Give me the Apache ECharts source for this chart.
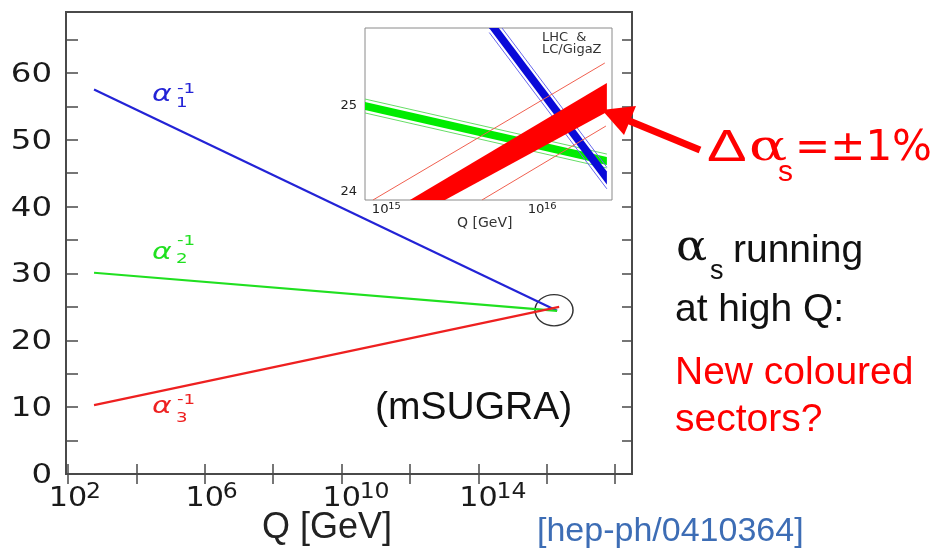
<!DOCTYPE html>
<html><head><meta charset="utf-8">
<script src="https://cdn.jsdelivr.net/npm/echarts@6/dist/echarts.min.js"></script>
<style>html,body{margin:0;padding:0;background:#fff}#c{width:935px;height:555px}</style>
</head><body><div id="c"></div>
<script>
// ---------------- data (x = log10(Q/GeV), y = alpha^-1) ----------------
const mainQ = [2.76, 16.30];
const alpha1Inv = [57.5, 24.4];
const alpha2Inv = [30.1, 24.4];
const mainQ3 = [2.76, 16.36];
const alpha3Inv = [10.3, 25.0];
const convergence = [16.21, 24.5];

const xTickExp = [2, 4, 6, 8, 10, 12, 14, 16, 18];
const xLabelExp = [2, 6, 10, 14];
const yTickVals = [0, 5, 10, 15, 20, 25, 30, 35, 40, 45, 50, 55, 60, 65];
const yLabelVals = [0, 10, 20, 30, 40, 50, 60];

// inset
const insetBlueQ = [15.70, 16.454];
const insetBlueMid = [25.967, 24.15];
const insetBlueCore = 0.075;
const insetBlueEdge = 0.125;
const insetGreenQ = [14.903, 16.454];
const insetGreenMid = [24.988, 24.348];
const insetGreenCore = 0.047;
const insetGreenEdge = 0.081;
const insetRedQ = [15.0, 16.454];
const insetRedUpper = [23.689, 25.255];
const insetRedLower = [23.485, 24.918];
const insetRedHiQ = [14.954, 16.441];
const insetRedHi = [23.895, 25.488];
const insetRedLoQ = [15.653, 16.448];
const insetRedLo = [23.895, 24.755];
const insetXTickMant = [9, 1, 2, 3, 4, 5, 6, 7, 8, 9, 1, 2, 3];
const insetXTickDec  = [14, 15, 15, 15, 15, 15, 15, 15, 15, 15, 16, 16, 16];
const insetXLabelExp = [15, 16];
const insetYTicks = [24, 24.5, 25, 25.5];
const insetYLabels = [24, 25];

// ---------------- chart ----------------
const insetXTicks = insetXTickMant.map((m, i) => Math.log10(m) + insetXTickDec[i]);
const AX = '#4a4a4a';
const F_SANS = '"Liberation Sans", Arial, sans-serif';
const F_PLOT = '"DejaVu Sans", sans-serif';
const F_SERIF = '"DejaVu Serif", serif';

const chart = echarts.init(document.getElementById('c'));

function pairs(xs, ys) { return xs.map((x, i) => [x, ys[i]]); }

function bandRender(qs, mid, core, edge, coreColor, edgeColor) {
  return function (params, api) {
    if (params.dataIndex !== 0) return null;
    const c = (q, v) => api.coord([q, v]);
    const poly = [c(qs[0], mid[0] + core), c(qs[1], mid[1] + core), c(qs[1], mid[1] - core), c(qs[0], mid[0] - core)];
    const children = [{ type: 'polygon', shape: { points: poly }, style: { fill: coreColor } }];
    [edge, -edge].forEach(e => {
      const a = c(qs[0], mid[0] + e), b = c(qs[1], mid[1] + e);
      children.push({ type: 'line', shape: { x1: a[0], y1: a[1], x2: b[0], y2: b[1] }, style: { stroke: edgeColor, lineWidth: 1 } });
    });
    return { type: 'group', children };
  };
}

function redBandRender(params, api) {
  if (params.dataIndex !== 0) return null;
  const c = (q, v) => api.coord([q, v]);
  const poly = [c(insetRedQ[0], insetRedUpper[0]), c(insetRedQ[1], insetRedUpper[1]),
                c(insetRedQ[1], insetRedLower[1]), c(insetRedQ[0], insetRedLower[0])];
  return { type: 'polygon', shape: { points: poly }, style: { fill: '#ff0000' } };
}

function ellipseRender(params, api) {
  const p = api.coord([api.value(0), api.value(1)]);
  return { type: 'circle', x: p[0], y: p[1], scaleY: 0.82, shape: { cx: 0, cy: 0, r: 19 },
           style: { fill: 'none', stroke: '#333', lineWidth: 1.5, strokeNoScale: true } };
}

// power-of-ten tick labels, placed through the axis scale
function powLabelRender(cfg) {
  return function (params, api) {
    const p = api.coord([api.value(0), api.value(1)]);
    const e = String(api.value(0));
    return { type: 'group', children: [
      { type: 'text', x: p[0], y: p[1] + cfg.baseDy, scaleX: cfg.sx,
        style: { text: '10', fontSize: cfg.base, fontFamily: F_PLOT, fill: cfg.color, align: 'center', verticalAlign: 'middle' } },
      { type: 'text', x: p[0] + cfg.supDx, y: p[1] + cfg.supDy, scaleX: cfg.sx,
        style: { text: e, fontSize: cfg.sup, fontFamily: F_PLOT, fill: cfg.color, align: 'left', verticalAlign: 'middle' } }
    ] };
  };
}
function numLabelRender(cfg) {
  return function (params, api) {
    const p = api.coord([api.value(0), api.value(1)]);
    return { type: 'text', x: p[0] + cfg.dx, y: p[1] + cfg.dy, scaleX: cfg.sx,
      style: { text: String(api.value(1)), fontSize: cfg.size, fontFamily: F_PLOT, fill: cfg.color, align: 'right', verticalAlign: 'middle' } };
  };
}

function T(text, x, base, size, family, color, extra) {
  const el = { type: 'text', x: x, y: base - 0.3 * size, z: 100,
    style: Object.assign({ text: text, fontSize: size, fontFamily: family, fill: color, verticalAlign: 'middle', align: 'left' }, (extra && extra.style) || {}) };
  if (extra) { for (const k in extra) if (k !== 'style') el[k] = extra[k]; }
  return el;
}

function alphaLabel(x, base, supBase, subBase, sub, color) {
  return [
    T('α', x, base, 23, F_PLOT, color, { scaleX: 1.3, style: { fontStyle: 'italic' } }),
    T('-1', x + 25, supBase, 14, F_PLOT, color, { scaleX: 1.3 }),
    T(sub, x + 24, subBase, 14, F_PLOT, color, { scaleX: 1.3 })
  ];
}

const graphics = [].concat(
  alphaLabel(152, 102, 94, 108, '1', '#2323d6'),
  alphaLabel(152, 260, 246, 264, '2', '#20e020'),
  alphaLabel(152, 414, 405, 423, '3', '#ee2020'),
  [
    T('(mSUGRA)', 375, 420, 39, F_SANS, '#111'),
    T('Q [GeV]', 262, 539, 36, F_SANS, '#222'),
    T('[hep-ph/0410364]', 537, 542, 34, F_SANS, '#3d6db5'),
    // inset texts
    T('LHC  &', 542, 42, 13, F_PLOT, '#333'),
    T('LC/GigaZ', 542, 54, 13, F_PLOT, '#333'),
    T('Q [GeV]', 457, 228, 14, F_PLOT, '#333'),
    // right side
    T('Δ', 707, 162, 44, F_SANS, '#ff0000', { scaleX: 1.35 }),
    T('α', 749, 162, 42, F_SERIF, '#ff0000', { scaleX: 1.35 }),
    T('s', 778, 182, 30, F_SANS, '#ff0000'),
    T('=±1%', 795, 162, 42, F_PLOT, '#ff0000'),
    T('α', 676, 262, 42, F_SERIF, '#111', { scaleX: 1.1 }),
    T('s', 710, 280, 27, F_SANS, '#111'),
    T('running', 733, 263, 39, F_SANS, '#111'),
    T('at high Q:', 675, 322, 39, F_SANS, '#111'),
    T('New coloured', 675, 385, 39, F_SANS, '#ff0000'),
    T('sectors?', 675, 432, 39, F_SANS, '#ff0000'),
    { type: 'line', z: 100, shape: { x1: 700, y1: 150, x2: 627, y2: 120 }, style: { stroke: '#ff0000', lineWidth: 7 } },
    { type: 'polygon', z: 100, shape: { points: [[602, 110], [636, 106], [624, 135]] }, style: { fill: '#ff0000' } }
  ]
);

const tickStyle = { color: AX, width: 1.5 };
const insetTick = { color: '#666', width: 1 };

const option = {
  animation: false,
  backgroundColor: '#fff',
  grid: [
    { left: 66, top: 12, width: 566, height: 462, show: true, borderColor: AX, borderWidth: 2, backgroundColor: 'transparent' },
    { left: 365, top: 28, width: 247, height: 172, show: true, borderColor: '#8a8a8a', borderWidth: 1, backgroundColor: '#fff', z: 5 }
  ],
  xAxis: [
    { gridIndex: 0, type: 'value', min: 1.94, max: 18.49, position: 'bottom',
      axisLine: { show: false }, splitLine: { show: false }, axisLabel: { show: false },
      axisTick: { inside: true, length: 10, customValues: xTickExp, lineStyle: tickStyle } },
    { gridIndex: 0, type: 'value', min: 1.94, max: 18.49, position: 'top',
      axisLine: { show: false }, splitLine: { show: false }, axisLabel: { show: false },
      axisTick: { inside: true, length: 10, customValues: xTickExp, lineStyle: tickStyle } },
    { gridIndex: 1, type: 'value', min: 14.903, max: 16.487, position: 'bottom',
      axisLine: { show: false }, splitLine: { show: false }, axisLabel: { show: false },
      axisTick: { inside: true, length: 4, customValues: insetXTicks, lineStyle: insetTick } },
    { gridIndex: 1, type: 'value', min: 14.903, max: 16.487, position: 'top',
      axisLine: { show: false }, splitLine: { show: false }, axisLabel: { show: false },
      axisTick: { inside: true, length: 4, customValues: insetXTicks, lineStyle: insetTick } }
  ],
  yAxis: [
    { gridIndex: 0, type: 'value', min: 0, max: 69.1, position: 'left',
      axisLine: { show: false }, splitLine: { show: false }, axisLabel: { show: false },
      axisTick: { inside: true, length: 12, customValues: yTickVals, lineStyle: tickStyle } },
    { gridIndex: 0, type: 'value', min: 0, max: 69.1, position: 'right',
      axisLine: { show: false }, splitLine: { show: false }, axisLabel: { show: false },
      axisTick: { inside: true, length: 10, customValues: yTickVals, lineStyle: tickStyle } },
    { gridIndex: 1, type: 'value', min: 23.895, max: 25.895, position: 'left',
      axisLine: { show: false }, splitLine: { show: false }, axisLabel: { show: false },
      axisTick: { inside: true, length: 5, customValues: insetYTicks, lineStyle: insetTick } },
    { gridIndex: 1, type: 'value', min: 23.895, max: 25.895, position: 'right',
      axisLine: { show: false }, splitLine: { show: false }, axisLabel: { show: false },
      axisTick: { inside: true, length: 5, customValues: insetYTicks, lineStyle: insetTick } }
  ],
  series: [
    { name: 'alpha1', type: 'line', xAxisIndex: 0, yAxisIndex: 0, data: pairs(mainQ, alpha1Inv), showSymbol: false, silent: true,
      lineStyle: { color: '#2323d6', width: 2.2 } },
    { name: 'alpha2', type: 'line', xAxisIndex: 0, yAxisIndex: 0, data: pairs(mainQ, alpha2Inv), showSymbol: false, silent: true,
      lineStyle: { color: '#20e020', width: 2.2 } },
    { name: 'alpha3', type: 'line', xAxisIndex: 0, yAxisIndex: 0, data: pairs(mainQ3, alpha3Inv), showSymbol: false, silent: true,
      lineStyle: { color: '#ee2020', width: 2.2 } },
    { name: 'circle', type: 'custom', xAxisIndex: 0, yAxisIndex: 0, data: [convergence], renderItem: ellipseRender, silent: true, z: 3 },
    // axis tick labels (through the axes' scales)
    { name: 'x labels', type: 'custom', xAxisIndex: 0, yAxisIndex: 0, silent: true, z: 3,
      data: xLabelExp.map(e => [e, 0]),
      renderItem: powLabelRender({ base: 27, sup: 21, sx: 1.12, baseDy: 34 - 0.3 * 27 - 1, supDx: 18, supDy: 26 - 0.3 * 21 - 1, color: '#1a1a1a' }) },
    { name: 'y labels', type: 'custom', xAxisIndex: 0, yAxisIndex: 0, silent: true, z: 3,
      data: yLabelVals.map(v => [1.94, v]),
      renderItem: numLabelRender({ size: 27, sx: 1.2, dx: -14, dy: 2, color: '#1a1a1a' }) },
    { name: 'inset x labels', type: 'custom', xAxisIndex: 2, yAxisIndex: 2, silent: true, z: 14,
      data: insetXLabelExp.map(e => [e, 23.895]),
      renderItem: powLabelRender({ base: 12, sup: 9, sx: 1.1, baseDy: 13 - 0.3 * 12, supDy: 9 - 0.3 * 9, supDx: 8, color: '#222' }) },
    { name: 'inset y labels', type: 'custom', xAxisIndex: 2, yAxisIndex: 2, silent: true, z: 14,
      data: insetYLabels.map(v => [14.903, v]),
      renderItem: numLabelRender({ size: 13, sx: 1.0, dx: -8, dy: 1, color: '#222' }) },
    // inset bands
    { name: 'green band', type: 'custom', xAxisIndex: 2, yAxisIndex: 2, clip: true, z: 10, silent: true,
      data: pairs(insetGreenQ, insetGreenMid),
      renderItem: bandRender(insetGreenQ, insetGreenMid, insetGreenCore, insetGreenEdge, '#00ec00', '#66dd66') },
    { name: 'blue band', type: 'custom', xAxisIndex: 2, yAxisIndex: 2, clip: true, z: 11, silent: true,
      data: pairs(insetBlueQ, insetBlueMid),
      renderItem: bandRender(insetBlueQ, insetBlueMid, insetBlueCore, insetBlueEdge, '#0a0ad8', '#6868ee') },
    { name: 'red band', type: 'custom', xAxisIndex: 2, yAxisIndex: 2, clip: true, z: 12, silent: true,
      data: pairs(insetRedQ, insetRedUpper), renderItem: redBandRender },
    { name: 'red hi', type: 'line', xAxisIndex: 2, yAxisIndex: 2, clip: true, z: 13, silent: true, showSymbol: false,
      data: pairs(insetRedHiQ, insetRedHi), lineStyle: { color: '#f06050', width: 1 } },
    { name: 'red lo', type: 'line', xAxisIndex: 2, yAxisIndex: 2, clip: true, z: 13, silent: true, showSymbol: false,
      data: pairs(insetRedLoQ, insetRedLo), lineStyle: { color: '#f06050', width: 1 } }
  ],
  graphic: graphics
};
chart.setOption(option);
</script></body></html>
